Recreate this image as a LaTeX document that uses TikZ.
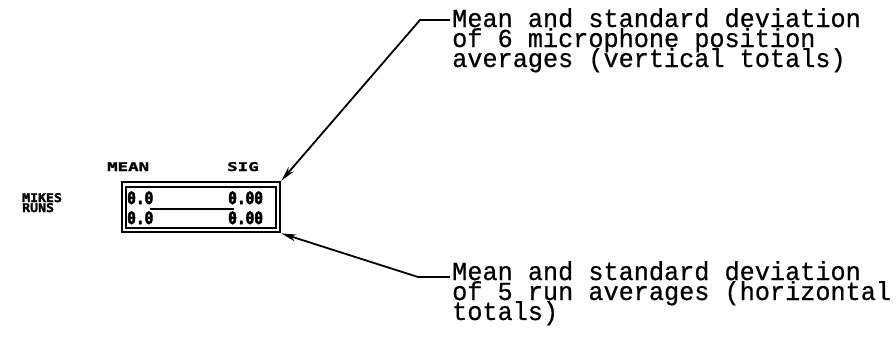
\documentclass[tikz,border=0pt]{standalone}
\usepackage{fontspec}
\usetikzlibrary{arrows.meta}
\newfontfamily\tw[FakeStretch=0.97,FakeBold=0.6]{Liberation Mono}
\newfontfamily\dm[FakeStretch=1.1,FakeBold=2]{DejaVu Sans Mono Bold}
\newfontfamily\dmw[FakeStretch=1.45,FakeBold=2]{DejaVu Sans Mono Bold}
\newfontfamily\dv[FakeStretch=0.85,FakeBold=3]{DejaVu Sans Mono Bold}
\lineskiplimit=-100pt
\tikzset{
  note/.style={font=\tw\fontsize{26}{20}\selectfont, align=left, inner sep=0pt, anchor=base west},
  tag/.style={font=\dm\fontsize{12}{10}\selectfont, inner sep=0pt, anchor=base west, align=left},
  head/.style={font=\dmw\fontsize{12}{10}\selectfont, inner sep=0pt, anchor=base west},
  val/.style={font=\dv\fontsize{17}{20}\selectfont, inner sep=0pt, anchor=base west, align=left},
  leader/.style={line width=1.8pt, {Stealth[length=15pt,width=7pt]}-},
}
\begin{document}
\begin{tikzpicture}[x=1pt,y=-1pt]
\useasboundingbox (0,0) rectangle (896,346);
% table box
\node[draw, line width=2.8pt, minimum width=158pt, minimum height=50pt, inner sep=0pt] (box) at (201,207) {};
\draw[line width=1.2pt] (126,187) rectangle (276,228);
\draw[line width=2.2pt] (150,209) -- (234,209);
% headings
\node[head] (mean) at (107,171) {MEAN};
\node[head] (sig) at (227,171) {SIG};
\node[tag] (rows) at (22,212) {MIKES\\RUNS};
% values
\node[val] (v1) at (127,224) {0.0\\0.0};
\node[val] (v2) at (228,224) {0.00\\0.00};
% annotations
\node[note] (top) at (452,67) {Mean and standard deviation\\of 6 microphone position\\averages (vertical totals)};
\node[note] (bot) at (452,320) {Mean and standard deviation\\of 5 run averages (horizontal\\totals)};
\coordinate (t1) at (420,20);
\coordinate (t2) at (450,20);
\coordinate (b1) at (418,277);
\coordinate (b2) at (450,277);
\draw[leader] (box.north east) -- (t1) -- (t2);
\draw[leader] (box.south east) -- (b1) -- (b2);
\end{tikzpicture}
\end{document}
